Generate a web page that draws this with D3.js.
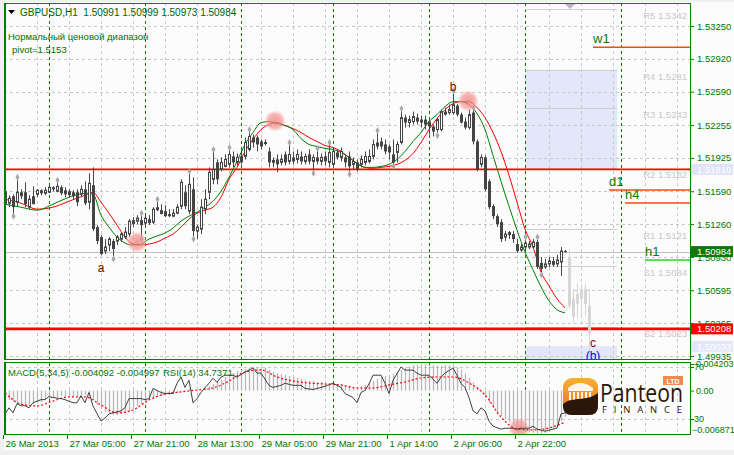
<!DOCTYPE html>
<html><head><meta charset="utf-8">
<script src="https://cdn.jsdelivr.net/npm/d3@7"></script>
<style>body{margin:0;background:#f0f0f0}svg{display:block}</style>
</head><body>
<script>
// ---------------- DATA ----------------
const symbolTitle = "GBPUSD,H1  1.50991 1.50999 1.50973 1.50984";
const noteLines = ["Нормальный ценовой диапазон", "pivot=1.5153"];
const opens = [1.5159,1.5147,1.5154,1.5148,1.5158,1.5158,1.5143,1.5154,1.5156,1.5160,1.5157,1.5158,1.5163,1.5159,1.5163,1.5160,1.5159,1.5158,1.5158,1.5156,1.5161,1.5148,1.5165,1.5123,1.5113,1.5099,1.5105,1.5109,1.5109,1.5111,1.5113,1.5116,1.5130,1.5129,1.5130,1.5127,1.5131,1.5128,1.5143,1.5140,1.5139,1.5136,1.5134,1.5137,1.5144,1.5158,1.5139,1.5161,1.5119,1.5121,1.5141,1.5158,1.5171,1.5188,1.5181,1.5184,1.5186,1.5194,1.5188,1.5194,1.5194,1.5201,1.5213,1.5213,1.5209,1.5207,1.5199,1.5188,1.5191,1.5188,1.5196,1.5189,1.5193,1.5191,1.5194,1.5189,1.5196,1.5189,1.5193,1.5189,1.5194,1.5188,1.5186,1.5198,1.5193,1.5193,1.5194,1.5186,1.5188,1.5186,1.5188,1.5189,1.5194,1.5208,1.5209,1.5206,1.5204,1.5196,1.5198,1.5208,1.5233,1.5228,1.5229,1.5233,1.5231,1.5231,1.5229,1.5224,1.5221,1.5221,1.5239,1.5238,1.5238,1.5245,1.5236,1.5229,1.5223,1.5238,1.5209,1.5186,1.5193,1.5169,1.5144,1.5134,1.5128,1.5113,1.5118,1.5116,1.5106,1.5100,1.5103,1.5103,1.5103,1.5108,1.5087,1.5083,1.5086,1.5089,1.5086,1.5088,1.50991];
const highs = [1.5163,1.5155,1.5156,1.5171,1.5161,1.5168,1.5155,1.5164,1.5161,1.5161,1.5163,1.5165,1.5164,1.5168,1.5165,1.5163,1.5161,1.5160,1.5161,1.5165,1.5169,1.5177,1.5183,1.5125,1.5115,1.5111,1.5113,1.5111,1.5115,1.5118,1.5123,1.5131,1.5133,1.5135,1.5135,1.5137,1.5135,1.5143,1.5149,1.5146,1.5145,1.5141,1.5141,1.5146,1.5171,1.5165,1.5177,1.5173,1.5125,1.5151,1.5161,1.5183,1.5199,1.5191,1.5193,1.5196,1.5201,1.5199,1.5197,1.5201,1.5213,1.5219,1.5216,1.5215,1.5211,1.5211,1.5203,1.5193,1.5196,1.5196,1.5199,1.5206,1.5199,1.5201,1.5199,1.5197,1.5201,1.5196,1.5200,1.5197,1.5199,1.5206,1.5203,1.5201,1.5203,1.5196,1.5199,1.5193,1.5191,1.5195,1.5199,1.5201,1.5211,1.5218,1.5213,1.5211,1.5206,1.5211,1.5209,1.5240,1.5236,1.5235,1.5239,1.5237,1.5235,1.5235,1.5231,1.5226,1.5233,1.5241,1.5243,1.5246,1.5258,1.5247,1.5238,1.5233,1.5241,1.5241,1.5211,1.5196,1.5195,1.5171,1.5146,1.5136,1.5131,1.5119,1.5119,1.5119,1.5111,1.5106,1.5111,1.5109,1.5111,1.5111,1.5093,1.5091,1.5093,1.5093,1.5095,1.5103,1.50999];
const lows = [1.5139,1.5143,1.5136,1.5144,1.5151,1.5143,1.5141,1.5146,1.5153,1.5155,1.5155,1.5157,1.5159,1.5158,1.5155,1.5153,1.5153,1.5151,1.5144,1.5153,1.5145,1.5141,1.5119,1.5106,1.5095,1.5096,1.5099,1.5093,1.5105,1.5108,1.5111,1.5113,1.5123,1.5126,1.5113,1.5123,1.5125,1.5126,1.5139,1.5136,1.5133,1.5133,1.5133,1.5136,1.5141,1.5141,1.5136,1.5113,1.5111,1.5116,1.5136,1.5151,1.5166,1.5166,1.5179,1.5183,1.5183,1.5183,1.5185,1.5186,1.5191,1.5199,1.5203,1.5199,1.5201,1.5205,1.5183,1.5183,1.5178,1.5185,1.5185,1.5186,1.5186,1.5187,1.5186,1.5186,1.5186,1.5179,1.5186,1.5185,1.5185,1.5183,1.5183,1.5191,1.5189,1.5183,1.5178,1.5181,1.5179,1.5183,1.5185,1.5187,1.5191,1.5201,1.5201,1.5196,1.5191,1.5186,1.5188,1.5206,1.5223,1.5223,1.5226,1.5226,1.5223,1.5221,1.5216,1.5214,1.5217,1.5219,1.5235,1.5236,1.5236,1.5234,1.5227,1.5221,1.5221,1.5206,1.5179,1.5183,1.5159,1.5141,1.5131,1.5123,1.5108,1.5109,1.5111,1.5107,1.5097,1.5098,1.5101,1.5101,1.5101,1.5081,1.5077,1.5081,1.5083,1.5083,1.5083,1.5074,1.50973];
const closes = [1.5146,1.5152,1.5143,1.5158,1.5154,1.5146,1.5151,1.5146,1.5160,1.5157,1.5160,1.5163,1.5161,1.5164,1.5157,1.5156,1.5155,1.5154,1.5148,1.5161,1.5147,1.5167,1.5121,1.5109,1.5096,1.5103,1.5111,1.5101,1.5113,1.5116,1.5118,1.5129,1.5126,1.5132,1.5125,1.5132,1.5127,1.5141,1.5140,1.5136,1.5134,1.5134,1.5137,1.5143,1.5168,1.5144,1.5166,1.5119,1.5123,1.5143,1.5151,1.5178,1.5181,1.5171,1.5188,1.5191,1.5196,1.5188,1.5193,1.5188,1.5208,1.5214,1.5208,1.5206,1.5204,1.5208,1.5188,1.5190,1.5186,1.5191,1.5188,1.5196,1.5189,1.5196,1.5189,1.5194,1.5189,1.5193,1.5189,1.5193,1.5189,1.5198,1.5199,1.5193,1.5199,1.5188,1.5184,1.5189,1.5181,1.5191,1.5194,1.5194,1.5206,1.5204,1.5204,1.5199,1.5198,1.5188,1.5206,1.5233,1.5228,1.5231,1.5234,1.5229,1.5228,1.5226,1.5224,1.5219,1.5231,1.5239,1.5236,1.5241,1.5246,1.5236,1.5228,1.5223,1.5236,1.5209,1.5181,1.5193,1.5161,1.5143,1.5134,1.5126,1.5111,1.5116,1.5115,1.5111,1.5099,1.5103,1.5107,1.5106,1.5108,1.5083,1.5081,1.5086,1.5089,1.5085,1.5090,1.5099,1.50984];

// projected (light grey) candles after the last bar
const ghostIdx   = [141,142,143,144,145,146];
const ghostOpen  = [1.5093,1.5051,1.5046,1.5051,1.5061,1.5044];
const ghostHigh  = [1.5101,1.5061,1.5066,1.5066,1.5066,1.5061];
const ghostLow   = [1.5041,1.5026,1.5031,1.5033,1.5033,1.4993];
const ghostClose = [1.5044,1.5033,1.5056,1.5061,1.5046,1.5016];

const maIdx = [0,4,8,12,16,20,22,24,26,28,30,32,34,36,38,40,42,44,46,48,50,52,54,56,58,60,62,64,66,68,70,72,74,76,78,80,82,84,86,88,90,92,94,96,98,100,102,104,106,108,110,112,114,116,118,120,122,124,126,128,130,132,134,136,138,140];
const maGreen = [1.5146,1.5143,1.5140,1.5146,1.5153,1.5157,1.5156,1.5135,1.5123,1.5113,1.5107,1.5105,1.5106,1.5111,1.5114,1.5117,1.5122,1.5129,1.5134,1.5138,1.5143,1.5149,1.5159,1.5173,1.5189,1.5206,1.5218,1.5228,1.5229,1.5227,1.5225,1.5221,1.5212,1.5206,1.5204,1.5202,1.5201,1.5198,1.5193,1.5187,1.5183,1.5183,1.5184,1.5186,1.5191,1.5199,1.5209,1.5218,1.5229,1.5236,1.5244,1.5249,1.5249,1.5246,1.5237,1.5221,1.5195,1.5169,1.5144,1.5120,1.5098,1.5080,1.5063,1.5049,1.5040,1.5037];
const maRed = [1.5151,1.5147,1.5141,1.5143,1.5149,1.5155,1.5158,1.5148,1.5137,1.5125,1.5113,1.5106,1.5105,1.5106,1.5108,1.5112,1.5116,1.5123,1.5131,1.5137,1.5140,1.5143,1.5153,1.5171,1.5183,1.5199,1.5211,1.5221,1.5226,1.5228,1.5225,1.5222,1.5218,1.5213,1.5209,1.5205,1.5203,1.5199,1.5193,1.5187,1.5183,1.5182,1.5183,1.5184,1.5186,1.5190,1.5197,1.5208,1.5221,1.5232,1.5241,1.5247,1.5249,1.5249,1.5243,1.5233,1.5218,1.5199,1.5175,1.5148,1.5121,1.5103,1.5078,1.5064,1.5051,1.5042];

const fractalUp = [3,13,34,38,46,52,56,61,71,78,81,93,99,112,117,130,133];
const fractalDown = [2,27,34,47,77,86,97,108,134];

const priceTicks = [1.53250,1.52920,1.52590,1.52255,1.51925,1.51590,1.51260,1.50930,1.50595,1.50265,1.49935];
const timeIdx = [0,16,32,48,64,80,96,112,128];
const timeLabels = ["26 Mar 2013","27 Mar 05:00","27 Mar 21:00","28 Mar 13:00","29 Mar 05:00","29 Mar 21:00","1 Apr 14:00","2 Apr 06:00","2 Apr 22:00"];
const dayIdx = [11,35,59,82,106,130,154];

const pivotNames = ["R5","R4","R3","R2","R1","S1","S2"];
const pivotVals = [1.5342,1.5281,1.5243,1.5182,1.5121,1.5084,1.5023];
const pivotBoxTop = [1.5281, 1.50033];
const pivotBoxBottom = [1.5182, 1.49895];

const levelNames = ["w1","d1","h4","h1"];
const levelVals = [1.53036,1.51603,1.51472,1.50899];
const levelStart = [147,151,155,160];

const redLevels = [1.51810, 1.50208];
const lastPrice = 1.50984;
const axisMarks = [1.51810, 1.50984, 1.50208, 1.50033];

const waveNames = ["a","b","c","(b)"];
const waveIdx = [24,112,147,147];
const wavePrice = [1.5078,1.5260,1.5003,1.4989];

const circleIdx = [33,67.5,115.75];
const circlePrice = [1.5108,1.52296,1.52497];
const rsiCircle = [128.5, 23];

const macdHist = [-0.00117,-0.00149,-0.00180,-0.00212,-0.00228,-0.00228,-0.00228,-0.00212,-0.00196,-0.00180,-0.00149,-0.00133,-0.00117,-0.00101,-0.00085,-0.00085,-0.00085,-0.00085,-0.00085,-0.00070,-0.00070,-0.00085,-0.00149,-0.00228,-0.00291,-0.00339,-0.00370,-0.00386,-0.00386,-0.00370,-0.00354,-0.00323,-0.00291,-0.00244,-0.00212,-0.00180,-0.00149,-0.00117,-0.00101,-0.00085,-0.00070,-0.00070,-0.00054,-0.00038,-0.00006,0.00009,0.00025,-0.00006,-0.00006,0.00009,0.00041,0.00073,0.00104,0.00136,0.00168,0.00215,0.00247,0.00278,0.00310,0.00326,0.00342,0.00358,0.00373,0.00373,0.00373,0.00358,0.00326,0.00294,0.00278,0.00263,0.00247,0.00231,0.00215,0.00199,0.00184,0.00168,0.00152,0.00152,0.00136,0.00136,0.00120,0.00120,0.00104,0.00104,0.00089,0.00073,0.00073,0.00057,0.00057,0.00073,0.00089,0.00120,0.00152,0.00184,0.00215,0.00231,0.00247,0.00263,0.00300,0.00330,0.00360,0.00380,0.00400,0.00410,0.00420,0.00420,0.00410,0.00400,0.00390,0.00390,0.00400,0.00400,0.00390,0.00370,0.00330,0.00270,0.00200,0.00130,0.00060,-0.00022,-0.00117,-0.00196,-0.00275,-0.00339,-0.00402,-0.00449,-0.00497,-0.00540,-0.00600,-0.00630,-0.00650,-0.00660,-0.00670,-0.00680,-0.00680,-0.00670,-0.00650,-0.00610,-0.00550,-0.00480,-0.004092];
const sigIdx = [0,4,8,12,16,20,24,28,32,36,40,44,48,52,56,60,64,68,72,76,80,84,88,92,96,100,104,108,112,116,120,124,128,132,136,140];
const macdSignal = [-0.00038,-0.00212,-0.00244,-0.00165,-0.00101,-0.00101,-0.00228,-0.00354,-0.00307,-0.00149,-0.00054,-0.00022,0.00009,0.00041,0.00152,0.00294,0.00326,0.00215,0.00152,0.00120,0.00104,0.00089,0.00041,0.00041,0.00089,0.00136,0.00199,0.00215,0.00215,0.00120,-0.00070,-0.00418,-0.00607,-0.00623,-0.00592,-0.004997];
const rsiIdx = [0,1,2,3,4,5,6,7,9,10,11,12,14,15,17,18,19,20,21,22,24,25,26,27,29,30,31,32,34,35,36,37,39,40,42,43,44,45,46,47,48,49,51,52,53,54,55,57,58,60,61,62,63,64,66,67,69,70,72,74,75,77,79,80,82,84,85,87,88,89,90,91,92,94,95,96,97,99,100,102,103,104,106,108,109,110,112,113,114,115,116,117,118,119,120,121,122,124,125,127,128,129,131,132,133,135,137,138,139,140];
const rsiVal = [33.9,38.6,34.7,41.8,40.2,40.2,38.6,42.5,44.9,44.9,47.3,46.5,45.7,44.9,42.5,42.5,48.0,42.5,50.4,40.0,28.4,30.8,33.9,34.7,36.3,38.6,45.7,45.7,45.7,44.9,45.7,53.5,50.4,49.6,49.6,57.5,62.2,54.3,59.8,42.5,45.7,50.4,57.5,61.4,58.2,62.2,63.7,63.7,62.2,66.1,67.6,69.2,65.3,65.3,55.9,54.3,55.9,57.5,55.9,55.9,53.5,52.7,54.3,55.1,57.5,54.3,49.6,46.5,42.5,50.4,52.0,57.0,63.7,63.7,57.5,49.6,59.8,70.0,67.6,67.6,65.3,63.7,63.7,57.5,62.2,65.3,69.2,63.7,57.5,54.3,46.5,36.3,34.0,38.6,36.3,28.4,24.5,22.2,22.9,22.9,22.2,22.9,22.9,24.5,22.2,20.6,22.2,22.9,33.9,34.7371];
const macdTitle = "MACD(5,34,5) -0.004092 -0.004997";
const rsiTitle = "RSI(14) 34.7371";
const macdRange = [-0.006871, 0.004203];
const rsiTicks = [70, 30];

// ---------------- DRAW ----------------
const W = 734, H = 455;
const FONT = '"Liberation Sans", Arial, sans-serif';
const GREEN_TXT = "#007800";
const svg = d3.select("body").append("svg").attr("width", W).attr("height", H).style("font-family", FONT);
const defs = svg.append("defs");

svg.append("rect").attr("width", W).attr("height", H).attr("fill", "#f0f0f0");
svg.append("rect").attr("x", 4).attr("y", 2).attr("width", 730).attr("height", 448).attr("fill", "#fcfcfc");

const PL = 4, PR = 690, PT = 3, PB = 360, MT = 363, MB = 435;
const x = d3.scaleLinear().domain([0, 1]).range([5, 9]);
const y = d3.scaleLinear().domain([1.49895, 1.53481]).range([PB, PT]);
const my = d3.scaleLinear().domain(macdRange).range([MB - 1, MT + 1]);
const ry = d3.scaleLinear().domain([30, 70]).range([419, 367]);

defs.append("clipPath").attr("id", "cm").append("rect").attr("x", PL).attr("y", PT).attr("width", PR - PL).attr("height", PB - PT);
defs.append("clipPath").attr("id", "cd").append("rect").attr("x", PL).attr("y", MT).attr("width", PR - PL).attr("height", MB - MT);
const rg = defs.append("radialGradient").attr("id", "pink");
rg.append("stop").attr("offset", "0%").attr("stop-color", "#f07878").attr("stop-opacity", 0.75);
rg.append("stop").attr("offset", "65%").attr("stop-color", "#f49090").attr("stop-opacity", 0.65);
rg.append("stop").attr("offset", "100%").attr("stop-color", "#f8b0b0").attr("stop-opacity", 0);

const main = svg.append("g").attr("clip-path", "url(#cm)");
const snap = v => Math.round(v) + 0.5;

// pivot boxes
main.selectAll("rect.pbox").data(pivotBoxTop).join("rect").attr("class", "pbox")
  .attr("x", x(130)).attr("width", x(153) - x(130))
  .attr("y", d => y(d)).attr("height", (d, k) => y(pivotBoxBottom[k]) - y(d))
  .attr("fill", "#e4e6fa");

// grid
const gridIdx = d3.range(8, 170, 8);
main.selectAll("line.gh").data(priceTicks).join("line").attr("class", "gh")
  .attr("x1", PL).attr("x2", PR).attr("y1", d => snap(y(d))).attr("y2", d => snap(y(d)))
  .attr("stroke", "#c8c8c8").attr("stroke-dasharray", "3,3");
main.selectAll("line.gv").data(gridIdx).join("line").attr("class", "gv")
  .attr("x1", d => x(d) + 0.5).attr("x2", d => x(d) + 0.5).attr("y1", PT).attr("y2", PB)
  .attr("stroke", "#c8c8c8").attr("stroke-dasharray", "3,3");
main.selectAll("line.gd").data(dayIdx).join("line").attr("class", "gd")
  .attr("x1", d => x(d) + 0.5).attr("x2", d => x(d) + 0.5).attr("y1", PT).attr("y2", PB)
  .attr("stroke", "#008000").attr("stroke-dasharray", "3,3");

// pivot lines & labels
main.selectAll("line.pv").data(pivotVals).join("line").attr("class", "pv")
  .attr("x1", x(130)).attr("x2", x(153)).attr("y1", d => snap(y(d))).attr("y2", d => snap(y(d)))
  .attr("stroke", "#cfcfcf");
main.selectAll("text.pv").data(pivotVals).join("text").attr("class", "pv")
  .attr("x", 687).attr("y", d => y(d) + 10).attr("text-anchor", "end")
  .attr("fill", "#c8c8c8").style("font-size", "9.5px")
  .text((d, k) => pivotNames[k] + " " + d3.format(".4f")(d));

// current price line
main.append("line").attr("x1", PL).attr("x2", PR).attr("y1", snap(y(lastPrice))).attr("y2", snap(y(lastPrice))).attr("stroke", "#c0c0c0");
// red levels
main.selectAll("line.red").data(redLevels).join("line").attr("class", "red")
  .attr("x1", PL).attr("x2", PR).attr("y1", d => y(d)).attr("y2", d => y(d))
  .attr("stroke", "#ff0000").attr("stroke-width", (d, k) => k === 0 ? 1.6 : 2.6);

// timeframe levels
main.selectAll("line.lv").data(levelVals).join("line").attr("class", "lv")
  .attr("x1", (d, k) => x(levelStart[k])).attr("x2", PR).attr("y1", d => y(d)).attr("y2", d => y(d))
  .attr("stroke", (d, k) => k === 3 ? "#22dd22" : "#ff4a10").attr("stroke-width", 1.5);
main.selectAll("text.lv").data(levelVals).join("text").attr("class", "lv")
  .attr("x", (d, k) => x(levelStart[k])).attr("y", d => y(d) - 4)
  .attr("fill", "#008000").style("font-size", "13px").text((d, k) => levelNames[k]);

// ghost candles
const ghosts = ghostIdx.map((i, k) => ({ i, o: ghostOpen[k], h: ghostHigh[k], l: ghostLow[k], c: ghostClose[k] }));
main.selectAll("line.gw").data(ghosts).join("line").attr("class", "gw")
  .attr("x1", d => x(d.i) + 0.5).attr("x2", d => x(d.i) + 0.5).attr("y1", d => y(d.h)).attr("y2", d => y(d.l))
  .attr("stroke", "#d6d6d6");
main.selectAll("rect.gb").data(ghosts).join("rect").attr("class", "gb")
  .attr("x", d => x(d.i) - 1).attr("width", 3)
  .attr("y", d => y(Math.max(d.o, d.c))).attr("height", d => Math.max(1, Math.abs(y(d.o) - y(d.c))))
  .attr("fill", "#d6d6d6");

// moving averages
const lineGen = d3.line().x(d => x(d[0])).y(d => y(d[1])).curve(d3.curveMonotoneX);
main.append("path").attr("d", lineGen(maIdx.map((i, k) => [i, maRed[k]]))).attr("fill", "none").attr("stroke", "#ff0000").attr("stroke-width", 1);
main.append("path").attr("d", lineGen(maIdx.map((i, k) => [i, maGreen[k]]))).attr("fill", "none").attr("stroke", "#008000").attr("stroke-width", 1);

// candles
const bars = opens.map((o, i) => ({ i, o, h: highs[i], l: lows[i], c: closes[i] }));
main.selectAll("line.wk").data(bars).join("line").attr("class", "wk")
  .attr("x1", d => x(d.i) + 0.5).attr("x2", d => x(d.i) + 0.5).attr("y1", d => y(d.h)).attr("y2", d => y(d.l))
  .attr("stroke", "#484848");
main.selectAll("rect.bd").data(bars).join("rect").attr("class", "bd")
  .attr("x", d => d.c >= d.o ? x(d.i) - 0.5 : x(d.i) - 1)
  .attr("width", d => d.c >= d.o ? 2 : 3)
  .attr("y", d => y(Math.max(d.o, d.c)))
  .attr("height", d => Math.max(1, Math.abs(y(d.o) - y(d.c))))
  .attr("fill", d => d.c >= d.o ? "#ffffff" : "#444444")
  .attr("stroke", d => d.c >= d.o ? "#444444" : "none");

// fractals
const dia = d3.symbol().type(d3.symbolDiamond).size(14);
main.selectAll("path.fu").data(fractalUp).join("path").attr("class", "fu").attr("d", dia)
  .attr("transform", i => `translate(${x(i) + 0.5},${y(highs[i]) - 2})`).attr("fill", "#a8a8a8");
main.selectAll("path.fd").data(fractalDown).join("path").attr("class", "fd").attr("d", dia)
  .attr("transform", i => `translate(${x(i) + 0.5},${y(lows[i]) + 2})`).attr("fill", "#a8a8a8");

// highlight circles
main.selectAll("circle.hl").data(circleIdx).join("circle").attr("class", "hl")
  .attr("cx", d => x(d)).attr("cy", (d, k) => y(circlePrice[k])).attr("r", 11).attr("fill", "url(#pink)");

// wave labels
main.selectAll("text.wv").data(waveNames).join("text").attr("class", "wv")
  .attr("x", (d, k) => x(waveIdx[k])).attr("y", (d, k) => y(wavePrice[k])).attr("text-anchor", "middle")
  .attr("fill", (d, k) => k === 3 ? "#0000ff" : "#800000").style("font-size", "12px").text(d => d);

// top grey marker
svg.append("path").attr("d", "M564,3L576,3L570,9Z").attr("fill", "#b8b8b8");

// header
svg.append("path").attr("d", "M8,10L15,10L11.5,14Z").attr("fill", "#000");
svg.append("text").attr("x", 20).attr("y", 16).attr("fill", "#006400").style("font-size", "10px").attr("xml:space", "preserve").text(symbolTitle);
svg.selectAll("text.note").data(noteLines).join("text").attr("class", "note")
  .attr("x", (d, k) => k === 0 ? 8 : 12).attr("y", (d, k) => 40 + k * 13)
  .attr("fill", "#007000").style("font-size", "9.5px").text(d => d);

// frames
svg.append("rect").attr("x", PL + 0.5).attr("y", PT + 0.5).attr("width", PR - PL).attr("height", PB - PT - 1).attr("fill", "none").attr("stroke", "#008000");
svg.append("line").attr("x1", PL + 1.5).attr("x2", PL + 1.5).attr("y1", PT).attr("y2", PB).attr("stroke", "#008000");

// price axis
const pa = svg.append("g").attr("transform", `translate(${PR},0)`)
  .call(d3.axisRight(y).tickValues(priceTicks).tickFormat(d3.format(".5f")).tickSize(4));
pa.select(".domain").remove();
pa.selectAll("line").attr("stroke", "#008000");
pa.selectAll("text").attr("fill", GREEN_TXT).attr("font-family", FONT).attr("font-size", "9.5px").attr("x", 7);

const markFill = ["#e0e2f8", "#0a7a0a", "#ff0000", "#e4e6fa"];
svg.selectAll("rect.mk").data(axisMarks).join("rect").attr("class", "mk")
  .attr("x", 691).attr("width", 42).attr("y", d => y(d) - 5.5).attr("height", 11)
  .attr("fill", (d, k) => markFill[k]);
svg.selectAll("text.mk").data(axisMarks).join("text").attr("class", "mk")
  .attr("x", 697).attr("y", d => y(d) + 3.5).attr("fill", "#ffffff").style("font-size", "9.5px")
  .text(d => d3.format(".5f")(d));

// ---------------- MACD / RSI panel ----------------
const sub = svg.append("g").attr("clip-path", "url(#cd)");
sub.selectAll("line.rg").data(rsiTicks).join("line").attr("class", "rg")
  .attr("x1", PL).attr("x2", PR).attr("y1", d => snap(ry(d))).attr("y2", d => snap(ry(d)))
  .attr("stroke", "#c8c8c8").attr("stroke-dasharray", "3,3");
sub.selectAll("line.gv").data(gridIdx).join("line").attr("class", "gv")
  .attr("x1", d => x(d) + 0.5).attr("x2", d => x(d) + 0.5).attr("y1", MT).attr("y2", MB)
  .attr("stroke", "#c8c8c8").attr("stroke-dasharray", "3,3");
sub.selectAll("line.gd").data(dayIdx).join("line").attr("class", "gd")
  .attr("x1", d => x(d) + 0.5).attr("x2", d => x(d) + 0.5).attr("y1", MT).attr("y2", MB)
  .attr("stroke", "#008000").attr("stroke-dasharray", "3,3");
sub.selectAll("line.hist").data(macdHist).join("line").attr("class", "hist")
  .attr("x1", (d, i) => x(i) + 0.5).attr("x2", (d, i) => x(i) + 0.5)
  .attr("y1", my(0)).attr("y2", d => my(d))
  .attr("stroke", "#b8b8b8").attr("stroke-width", 1.3);
sub.append("circle").attr("cx", x(rsiCircle[0])).attr("cy", ry(rsiCircle[1])).attr("r", 11).attr("fill", "url(#pink)");
const sigLine = d3.line().x(d => x(d[0])).y(d => my(d[1])).curve(d3.curveMonotoneX);
sub.append("path").attr("d", sigLine(sigIdx.map((i, k) => [i, macdSignal[k]])))
  .attr("fill", "none").attr("stroke", "#ff0000").attr("stroke-width", 1.2).attr("stroke-dasharray", "2,2");
const rsiLine = d3.line().x(d => x(d[0])).y(d => ry(d[1]));
sub.append("path").attr("d", rsiLine(rsiIdx.map((i, k) => [i, rsiVal[k]])))
  .attr("fill", "none").attr("stroke", "#404040").attr("stroke-width", 1);

svg.append("text").attr("x", 8).attr("y", 375.5).attr("fill", GREEN_TXT).style("font-size", "9.5px").text(macdTitle);
svg.append("text").attr("x", 163).attr("y", 375.5).attr("fill", GREEN_TXT).style("font-size", "9.5px").text(rsiTitle);

svg.append("rect").attr("x", PL + 0.5).attr("y", MT - 0.5).attr("width", PR - PL).attr("height", MB - MT).attr("fill", "none").attr("stroke", "#008000");
svg.append("line").attr("x1", PL + 1.5).attr("x2", PL + 1.5).attr("y1", MT).attr("y2", MB).attr("stroke", "#008000");

const ma = svg.append("g").attr("transform", `translate(${PR},0)`)
  .call(d3.axisRight(my).tickValues([macdRange[1], 0]).tickFormat(d => d === 0 ? "0.00" : d3.format(".6f")(d)).tickSize(4));
ma.select(".domain").remove();
ma.selectAll("line").attr("stroke", "#008000");
ma.selectAll("text").attr("fill", GREEN_TXT).attr("font-family", FONT).attr("font-size", "9px").attr("x", 6);
const ra = svg.append("g").attr("transform", `translate(${PR},0)`)
  .call(d3.axisRight(ry).tickValues(rsiTicks).tickSize(4));
ra.select(".domain").remove();
ra.selectAll("line").attr("stroke", "#008000");
ra.selectAll("text").attr("fill", GREEN_TXT).attr("font-family", FONT).attr("font-size", "9px").attr("x", 4);
svg.append("text").attr("x", 692).attr("y", my(macdRange[0]) - 1).attr("fill", GREEN_TXT).style("font-size", "9px").text(d3.format(".6f")(macdRange[0]));

// time axis
const ta = svg.append("g").attr("transform", `translate(-2,${MB})`)
  .call(d3.axisBottom(x).tickValues(timeIdx).tickFormat((d, k) => timeLabels[k]).tickSize(4));
ta.select(".domain").remove();
ta.selectAll("line").attr("stroke", "#008000");
ta.selectAll("text").attr("text-anchor", "start").attr("x", 2).attr("y", 5).attr("dy", "0.71em")
  .attr("fill", GREEN_TXT).attr("font-family", FONT).attr("font-size", "9.5px");

// ---------------- logo ----------------
const lg = defs.append("linearGradient").attr("id", "lgo").attr("x1", 0).attr("y1", 0).attr("x2", 0).attr("y2", 1);
lg.append("stop").attr("offset", "0%").attr("stop-color", "#f8b030");
lg.append("stop").attr("offset", "100%").attr("stop-color", "#ec6c1c");
const logo = svg.append("g");
logo.append("rect").attr("x", 563).attr("y", 378).attr("width", 35).attr("height", 37).attr("rx", 9).attr("fill", "url(#lgo)");
logo.append("path").attr("d", "M568,388 Q580,378 593,388 L593,391 L568,391 Z").attr("fill", "#fff").attr("opacity", 0.9);
logo.selectAll("rect.col").data([0, 1, 2, 3, 4, 5]).join("rect").attr("class", "col")
  .attr("x", d => 569 + d * 4).attr("y", 392).attr("width", 2).attr("height", 8).attr("fill", "#fff").attr("opacity", 0.9);
logo.append("path").attr("d", "M563,404 C573,396 586,402 598,393 L598,406 Q598,415 589,415 L572,415 Q563,415 563,406 Z").attr("fill", "#2a170a");
logo.append("text").attr("x", 600).attr("y", 402).attr("fill", "#2a170a").attr("font-family", '"Open Sans", sans-serif')
  .style("font-size", "26px").attr("textLength", 83).attr("lengthAdjust", "spacingAndGlyphs").text("Panteon");
logo.append("text").attr("x", 602).attr("y", 413).attr("fill", "#2a170a").attr("font-family", '"Open Sans", sans-serif')
  .style("font-size", "9.5px").attr("textLength", 80).attr("lengthAdjust", "spacing").text("FINANCE");
logo.append("rect").attr("x", 663).attr("y", 376).attr("width", 20).attr("height", 9).attr("fill", "#f28a4c");
logo.append("text").attr("x", 673).attr("y", 383.5).attr("text-anchor", "middle").attr("fill", "#fff")
  .style("font-size", "7px").style("font-weight", "bold").text("LTD");
</script>
</body></html>
